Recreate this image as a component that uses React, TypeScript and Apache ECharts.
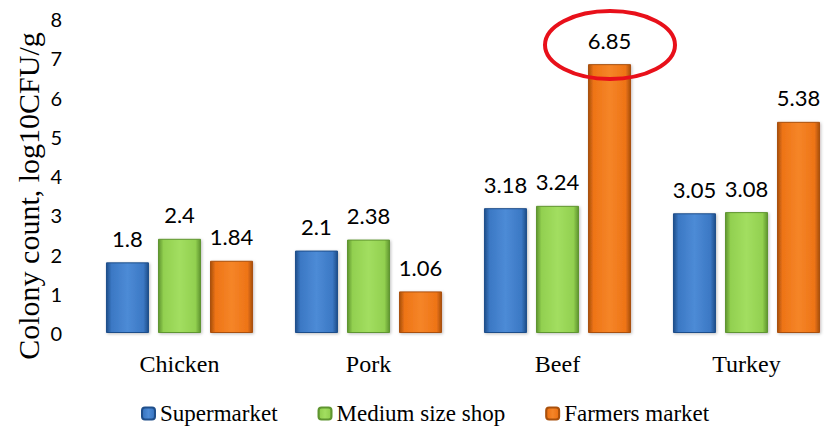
import React, { useEffect, useRef } from "react";
import * as echarts from "echarts";

const categories = ["Chicken", "Pork", "Beef", "Turkey"];
const seriesNames = ["Supermarket", "Medium size shop", "Farmers market"];
const supermarket = [1.8, 2.1, 3.18, 3.05];
const mediumShop = [2.4, 2.38, 3.24, 3.08];
const farmersMarket = [1.84, 1.06, 6.85, 5.38];
const yTicks = [0, 1, 2, 3, 4, 5, 6, 7, 8];
const yAxisTitle = "Colony count, log10CFU/g";

const palettes = [
  { edge: "#1f4e8a", base: "#3b78c4", light: "#4d8bd6" },
  { edge: "#5f9530", base: "#92d050", light: "#a2de60" },
  { edge: "#a9500c", base: "#ee7416", light: "#f58528" },
];

function grad(p: { edge: string; base: string; light: string }) {
  return new echarts.graphic.LinearGradient(0, 0, 1, 0, [
    { offset: 0, color: p.edge },
    { offset: 0.12, color: p.base },
    { offset: 0.5, color: p.light },
    { offset: 0.88, color: p.base },
    { offset: 1, color: p.edge },
  ]);
}

export default function App() {
  const ref = useRef<HTMLDivElement>(null);
  useEffect(() => {
    if (!ref.current) return;
    document.body.style.overflow = "hidden";
    const chart = echarts.init(ref.current, undefined, { renderer: "svg" });
    const data = [supermarket, mediumShop, farmersMarket];
    chart.setOption({
      animation: false,
      backgroundColor: "#ffffff",
      grid: { left: 85, top: 19, height: 314, width: 756, containLabel: false },
      legend: {
        data: seriesNames,
        left: 136,
        top: 397,
        itemWidth: 13,
        itemHeight: 12,
        itemGap: 40,
        textStyle: { fontFamily: "Liberation Serif", fontSize: 23, color: "#000" },
      },
      xAxis: {
        type: "category",
        data: categories,
        axisLine: { show: true, lineStyle: { color: "#d9d9d9", width: 2, shadowColor: "rgba(0,0,0,0.15)", shadowBlur: 2, shadowOffsetY: 1 } },
        axisTick: { show: false },
        axisLabel: { fontFamily: "Liberation Serif", fontSize: 24, color: "#000", margin: 19 },
      },
      yAxis: {
        type: "value",
        min: yTicks[0],
        max: yTicks[yTicks.length - 1],
        interval: 1,
        axisLine: { show: false },
        axisTick: { show: false },
        splitLine: { show: false },
        axisLabel: { fontFamily: "Lato", fontSize: 20, color: "#000", margin: 23 },
      },
      graphic: [
        {
          type: "text",
          x: 28,
          y: 196,
          rotation: Math.PI / 2,
          style: {
            text: yAxisTitle,
            fontFamily: "Liberation Serif",
            fontSize: 30,
            fill: "#000",
            align: "center",
            verticalAlign: "middle",
          },
        },
        {
          type: "ellipse",
          shape: { cx: 610, cy: 45, rx: 65, ry: 34 },
          style: { fill: "none", stroke: "#e8101a", lineWidth: 4 },
          z: 100,
        },
      ],
      series: data.map((d, i) => ({
        name: seriesNames[i],
        type: "bar",
        data: d,
        barWidth: 43,
        barGap: "21%",
        itemStyle: {
          color: grad(palettes[i]),
          borderColor: palettes[i].edge,
          borderWidth: 1,
          shadowColor: "rgba(0,0,0,0.25)",
          shadowBlur: 3,
          shadowOffsetX: 1,
          shadowOffsetY: 1,
        },
        label: {
          show: true,
          position: "top",
          distance: 13,
          fontFamily: "Lato",
          fontSize: 22,
          color: "#000",
        },
      })),
    });
    return () => chart.dispose();
  }, []);
  return (
    <div
      ref={ref}
      style={{ position: "fixed", left: 0, top: 0, width: 850, height: 426 }}
    />
  );
}
